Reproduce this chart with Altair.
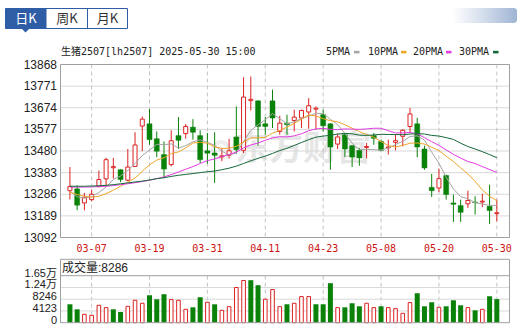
import altair as alt
import pandas as pd

# ---------------- data ----------------
dates = ["03-04","03-05","03-06","03-07","03-10","03-11","03-12","03-13","03-14","03-17",
         "03-18","03-19","03-20","03-21","03-24","03-25","03-26","03-27","03-28","03-31",
         "04-01","04-02","04-03","04-07","04-08","04-09","04-10","04-11","04-14","04-15",
         "04-16","04-17","04-18","04-21","04-22","04-23","04-24","04-25","04-28","04-29",
         "04-30","05-06","05-07","05-08","05-09","05-12","05-13","05-14","05-15","05-16",
         "05-19","05-20","05-21","05-22","05-23","05-26","05-27","05-28","05-29","05-30"]

opens = [13302, 13310, 13247, 13262, 13322, 13355, 13405, 13396, 13349, 13411,
         13592, 13602, 13535, 13464, 13419, 13549, 13558, 13587, 13549, 13481,
         13471, 13454, 13461, 13543, 13483, 13706, 13705, 13602, 13705, 13568,
         13605, 13617, 13628, 13655, 13668, 13643, 13602, 13511, 13553, 13504,
         13483, 13496, 13549, 13523, 13494, 13519, 13546, 13590, 13602, 13489,
         13317, 13314, 13370, 13247, 13235, 13243, 13251, 13251, 13232, 13199]
highs = [13408, 13325, 13292, 13307, 13392, 13450, 13449, 13398, 13489, 13564,
         13635, 13668, 13568, 13523, 13573, 13632, 13601, 13623, 13573, 13561,
         13564, 13493, 13534, 13680, 13811, 13814, 13707, 13632, 13755, 13638,
         13643, 13665, 13665, 13717, 13680, 13665, 13605, 13558, 13558, 13506,
         13493, 13516, 13561, 13531, 13531, 13553, 13578, 13673, 13629, 13504,
         13377, 13401, 13374, 13285, 13262, 13302, 13277, 13288, 13329, 13262]
lows = [13263, 13214, 13214, 13255, 13317, 13322, 13356, 13340, 13344, 13408,
        13479, 13508, 13452, 13359, 13411, 13489, 13535, 13531, 13426, 13423,
        13337, 13434, 13446, 13467, 13471, 13662, 13504, 13553, 13583, 13553,
        13553, 13568, 13583, 13580, 13576, 13568, 13396, 13489, 13453, 13408,
        13414, 13447, 13508, 13479, 13464, 13483, 13501, 13561, 13452, 13396,
        13274, 13296, 13262, 13162, 13162, 13225, 13195, 13228, 13153, 13165]
closes = [13321, 13237, 13273, 13286, 13352, 13441, 13410, 13352, 13408, 13507,
          13623, 13531, 13479, 13399, 13526, 13528, 13590, 13564, 13441, 13470,
          13461, 13458, 13481, 13486, 13722, 13712, 13590, 13590, 13628, 13605,
          13598, 13632, 13662, 13683, 13672, 13593, 13498, 13543, 13489, 13453,
          13449, 13500, 13537, 13483, 13498, 13526, 13573, 13646, 13498, 13404,
          13302, 13356, 13285, 13241, 13205, 13258, 13249, 13255, 13213, 13203]

ma5 = [13300, 13275, 13268, 13275, 13294, 13318, 13352, 13368, 13393, 13424,
       13460, 13484, 13510, 13508, 13512, 13493, 13504, 13521, 13530, 13519,
       13505, 13479, 13462, 13471, 13522, 13572, 13598, 13620, 13648, 13625,
       13602, 13611, 13625, 13636, 13649, 13648, 13622, 13598, 13559, 13515,
       13486, 13487, 13486, 13484, 13493, 13509, 13523, 13545, 13548, 13529,
       13475, 13425, 13362, 13310, 13275, 13266, 13248, 13242, 13236, 13236]
ma10 = [13295, 13285, 13277, 13273, 13277, 13289, 13304, 13322, 13340, 13359,
        13389, 13418, 13439, 13450, 13468, 13476, 13494, 13516, 13519, 13515,
        13499, 13492, 13492, 13501, 13520, 13539, 13539, 13541, 13560, 13573,
        13587, 13604, 13623, 13642, 13637, 13625, 13616, 13611, 13598, 13582,
        13567, 13554, 13542, 13522, 13504, 13498, 13505, 13515, 13516, 13511,
        13497, 13482, 13457, 13433, 13404, 13377, 13344, 13305, 13277, 13257]
ma20 = [13318, 13318, 13318, 13319, 13320, 13322, 13325, 13329, 13333, 13338,
        13343, 13349, 13356, 13364, 13374, 13386, 13398, 13410, 13424, 13437,
        13444, 13455, 13465, 13475, 13494, 13507, 13516, 13528, 13539, 13544,
        13543, 13548, 13557, 13571, 13579, 13582, 13577, 13576, 13579, 13578,
        13577, 13579, 13582, 13582, 13571, 13561, 13561, 13563, 13557, 13540,
        13522, 13505, 13485, 13465, 13448, 13433, 13424, 13410, 13397, 13384]
ma30 = [13322, 13322, 13322, 13323, 13324, 13326, 13329, 13333, 13337, 13341,
        13345, 13350, 13356, 13360, 13366, 13371, 13375, 13379, 13383, 13387,
        13390, 13396, 13403, 13412, 13424, 13436, 13447, 13457, 13469, 13482,
        13492, 13505, 13518, 13531, 13542, 13547, 13550, 13556, 13559, 13557,
        13551, 13550, 13552, 13555, 13554, 13554, 13553, 13556, 13558, 13556,
        13550, 13547, 13540, 13532, 13515, 13500, 13489, 13477, 13464, 13450]

volumes = [6460, 4700, 2940, 2585, 6110, 5290, 4700, 3760, 5760, 7870,
           6815, 9635, 8225, 9990, 8110, 7870, 4700, 5405, 8930, 7170,
           6460, 4350, 5640, 12340, 14800, 14920, 13160, 8225, 11630, 5640,
           6460, 6815, 9165, 9165, 6460, 6460, 13865, 5290, 5405, 6815,
           5760, 6815, 5290, 5760, 5290, 4935, 3290, 7050, 10340, 5760,
           7170, 5405, 5760, 7870, 6110, 5290, 4350, 4700, 9280, 8286]
vol_dir = list("DDUUUUDDUUUDDDUUUDDUDUUUUDD" "UUUDUUUDDDUDDDUUDUUUUDDDUDDDUDUDD")

tick_dates = ["03-07", "03-19", "03-31", "04-11", "04-23", "05-08", "05-20", "05-30"]
price_ticks = [13092, 13189, 13286, 13383, 13480, 13577, 13674, 13771, 13868]
vol_ticks = [0, 4123, 8246, 12369, 16492]
vol_tick_text = ["0", "4123", "8246", "1.24万", "1.65万"]
ma_names = ["5PMA", "10PMA", "20PMA", "30PMA"]
ma_colors = ["#a6a6a6", "#f0a62a", "#e23de2", "#16683a"]

title_text = "生猪2507[lh2507] 2025-05-30 15:00"
vol_title = "成交量:8286"
tabs = ["日K", "周K", "月K"]

# ---------------- styling ----------------
RED = "#dc2222"
GREEN = "#0a820a"
BLUE = "#2e5da6"
BORDER = "#a0a0a0"
GRID = "#d8d8d8"
MONO = "DejaVu Sans Mono, Noto Sans CJK SC"
SANS = "Liberation Sans, Noto Sans CJK SC"
CJK = "Noto Sans CJK SC"
W = 450

n = len(dates)
df = pd.DataFrame({"i": list(range(n)), "date": dates, "open": opens, "high": highs,
                   "low": lows, "close": closes, "vol": volumes, "vdir": vol_dir})
df["dir"] = ["U" if c >= o else "D" for o, c in zip(opens, closes)]
up = df[df["dir"] == "U"]
down = df[df["dir"] == "D"]
vup = df[df["vdir"] == "U"]
vdown = df[df["vdir"] == "D"]

ma_df = pd.concat([pd.DataFrame({"i": list(range(n)), "v": vals, "s": name})
                   for name, vals in zip(ma_names, [ma5, ma10, ma20, ma30])])
xt = pd.DataFrame({"i": [dates.index(d) for d in tick_dates], "lab": tick_dates})
pt = pd.DataFrame({"v": price_ticks})
vt = pd.DataFrame({"v": vol_ticks, "lab": vol_tick_text})
one = pd.DataFrame({"a": [0]})

XS = alt.Scale(domain=[-0.68, 60.13], range=[0, W], nice=False, zero=False)
PY = alt.Scale(domain=[13092, 13868], range=[173.5, 0.5], nice=False, zero=False)
VY = alt.Scale(domain=[0, 16492], range=[258.7, 211.7], nice=False, zero=False)

def X(f="i:Q"):
    return alt.X(f, scale=XS, axis=None)

def PYe(f):
    return alt.Y(f, scale=PY, axis=None)

def VYe(f):
    return alt.Y(f, scale=VY, axis=None)

def box(x1, x2, y1, y2, **kw):
    return alt.Chart(one).mark_rect(**kw).encode(
        x=alt.value(x1), x2=alt.value(x2), y=alt.value(y1), y2=alt.value(y2))

def label(x, y, text, **kw):
    return alt.Chart(one).mark_text(text=text, **kw).encode(x=alt.value(x), y=alt.value(y))

def vline(x, y1, y2, color):
    return alt.Chart(one).mark_rule(color=color, strokeWidth=1).encode(
        x=alt.value(x), y=alt.value(y1), y2=alt.value(y2))

layers = []

# header: tabs
layers.append(box(-54.5, 67.5, -55.5, -35.5, fill="white", stroke=BLUE, strokeWidth=1))
layers.append(box(-54.5, -13.5, -55.5, -35.5, fill=BLUE))
layers.append(vline(27.5, -55.5, -35.5, BLUE))
layers.append(alt.Chart(one).mark_point(shape="M-1,0L1,0L0,1Z", size=64, filled=True,
                                        color=BLUE, opacity=1).encode(
    x=alt.value(-34.5), y=alt.value(-35.5)))
layers.append(label(-34, -45.5, tabs[0], font=CJK, fontSize=13, color="white"))
layers.append(label(7, -45.5, tabs[1], font=CJK, fontSize=13, color="#333333"))
layers.append(label(47.5, -45.5, tabs[2], font=CJK, fontSize=13, color="#333333"))

# blurred badge top right
layers.append(box(392, 457, -56, -41, cornerRadius=3, fill=alt.Gradient(
    gradient="linear", x1=0, x2=1, y1=0, y2=0,
    stops=[alt.GradientStop(color="#ffffff", offset=0),
           alt.GradientStop(color="#d7e0ee", offset=0.45),
           alt.GradientStop(color="#9fb4d4", offset=1)])))

# title and legend
layers.append(label(1, -12.5, title_text, font=MONO, fontSize=10, color="#222222",
                    align="left", baseline="middle"))
leg_x = [266, 308, 353, 399]
mk_x = [294, 341, 386, 433]
for name, col, lx, mx in zip(ma_names, ma_colors, leg_x, mk_x):
    layers.append(label(lx, -11.8, name, font=MONO, fontSize=10, color="#222222",
                        align="left", baseline="middle"))
    layers.append(box(mx, mx + 5.5, -13.2, -10.6, fill=col))

# watermark
layers.append(label(243, 86, "东方财富", font=CJK, fontSize=34, fontWeight="bold",
                    color="#e6e6e6", baseline="middle"))
layers.append(alt.Chart(one).mark_point(shape="circle", size=260, filled=False,
                                        color="#e6e6e6", strokeWidth=4).encode(
    x=alt.value(161), y=alt.value(86)))

# price grid, vertical dashes, labels
layers.append(alt.Chart(pt).mark_rule(color=GRID, strokeWidth=1).encode(
    y=PYe("v:Q"), x=alt.value(0), x2=alt.value(W)))
layers.append(alt.Chart(xt).mark_rule(color="#c4c4c4", strokeWidth=1, strokeDash=[4, 3]).encode(
    x=X(), y=alt.value(0.5), y2=alt.value(173.5)))
layers.append(alt.Chart(xt).mark_rule(color="#c4c4c4", strokeWidth=1, strokeDash=[4, 3]).encode(
    x=X(), y=alt.value(211.7), y2=alt.value(258.7)))
layers.append(alt.Chart(pt).mark_text(align="right", baseline="middle", font=SANS,
                                      fontSize=12, color="#222222").encode(
    y=PYe("v:Q"), x=alt.value(-3), text=alt.Text("v:Q", format="d")))
layers.append(alt.Chart(xt).mark_text(align="center", baseline="middle", font=MONO,
                                      fontSize=10, color="#cc1111").encode(
    x=X(), y=alt.value(185), text="lab:N"))

# candles
layers.append(alt.Chart(up).mark_rule(color=RED, strokeWidth=1).encode(
    x=X(), y=PYe("low:Q"), y2="high:Q"))
layers.append(alt.Chart(down).mark_rule(color=GREEN, strokeWidth=1).encode(
    x=X(), y=PYe("low:Q"), y2="high:Q"))
layers.append(alt.Chart(up).mark_bar(size=4, fill="white", stroke=RED, strokeWidth=1).encode(
    x=X(), y=PYe("open:Q"), y2="close:Q"))
layers.append(alt.Chart(down).mark_bar(size=5, fill=GREEN, stroke=GREEN, strokeWidth=0.5).encode(
    x=X(), y=PYe("open:Q"), y2="close:Q"))

# moving averages
layers.append(alt.Chart(ma_df).mark_line(strokeWidth=1).encode(
    x=X(), y=PYe("v:Q"),
    color=alt.Color("s:N", scale=alt.Scale(domain=ma_names, range=ma_colors), legend=None)))

# volume panel
layers.append(alt.Chart(vt[(vt.v > 0) & (vt.v < 16492)]).mark_rule(color=GRID, strokeWidth=1).encode(
    y=VYe("v:Q"), x=alt.value(0), x2=alt.value(W)))
layers.append(alt.Chart(vt).mark_text(align="right", baseline="middle", font=SANS,
                                      fontSize=11, color="#222222", dy=-2).encode(
    y=VYe("v:Q"), x=alt.value(-3), text="lab:N"))
layers.append(alt.Chart(vup).mark_bar(size=3.6, fill="white", stroke=RED, strokeWidth=1).encode(
    x=X(), y=VYe("vol:Q"), y2=alt.datum(0)))
layers.append(alt.Chart(vdown).mark_bar(size=5, fill=GREEN).encode(
    x=X(), y=VYe("vol:Q"), y2=alt.datum(0)))
layers.append(label(2, 204, vol_title, font=SANS, fontSize=12, color="#222222",
                    align="left", baseline="middle"))

# panel borders
layers.append(box(0.5, W - 0.5, 0.5, 173.5, fillOpacity=0, stroke=BORDER, strokeWidth=1))
layers.append(box(0.5, W - 0.5, 195.3, 258.7, fillOpacity=0, stroke=BORDER, strokeWidth=1))
layers.append(alt.Chart(one).mark_rule(color=BORDER, strokeWidth=1).encode(
    x=alt.value(0.5), x2=alt.value(W - 0.5), y=alt.value(211.7)))

chart = alt.layer(*layers).resolve_scale(y="independent").properties(
    width=W, height=259,
    padding={"left": 60, "top": 64, "right": 7, "bottom": 7},
    autosize=alt.AutoSizeParams(type="none"),
    background="white",
).configure_view(stroke=None)

chart.save("out.html", embed_options={"renderer": "svg", "actions": False})
